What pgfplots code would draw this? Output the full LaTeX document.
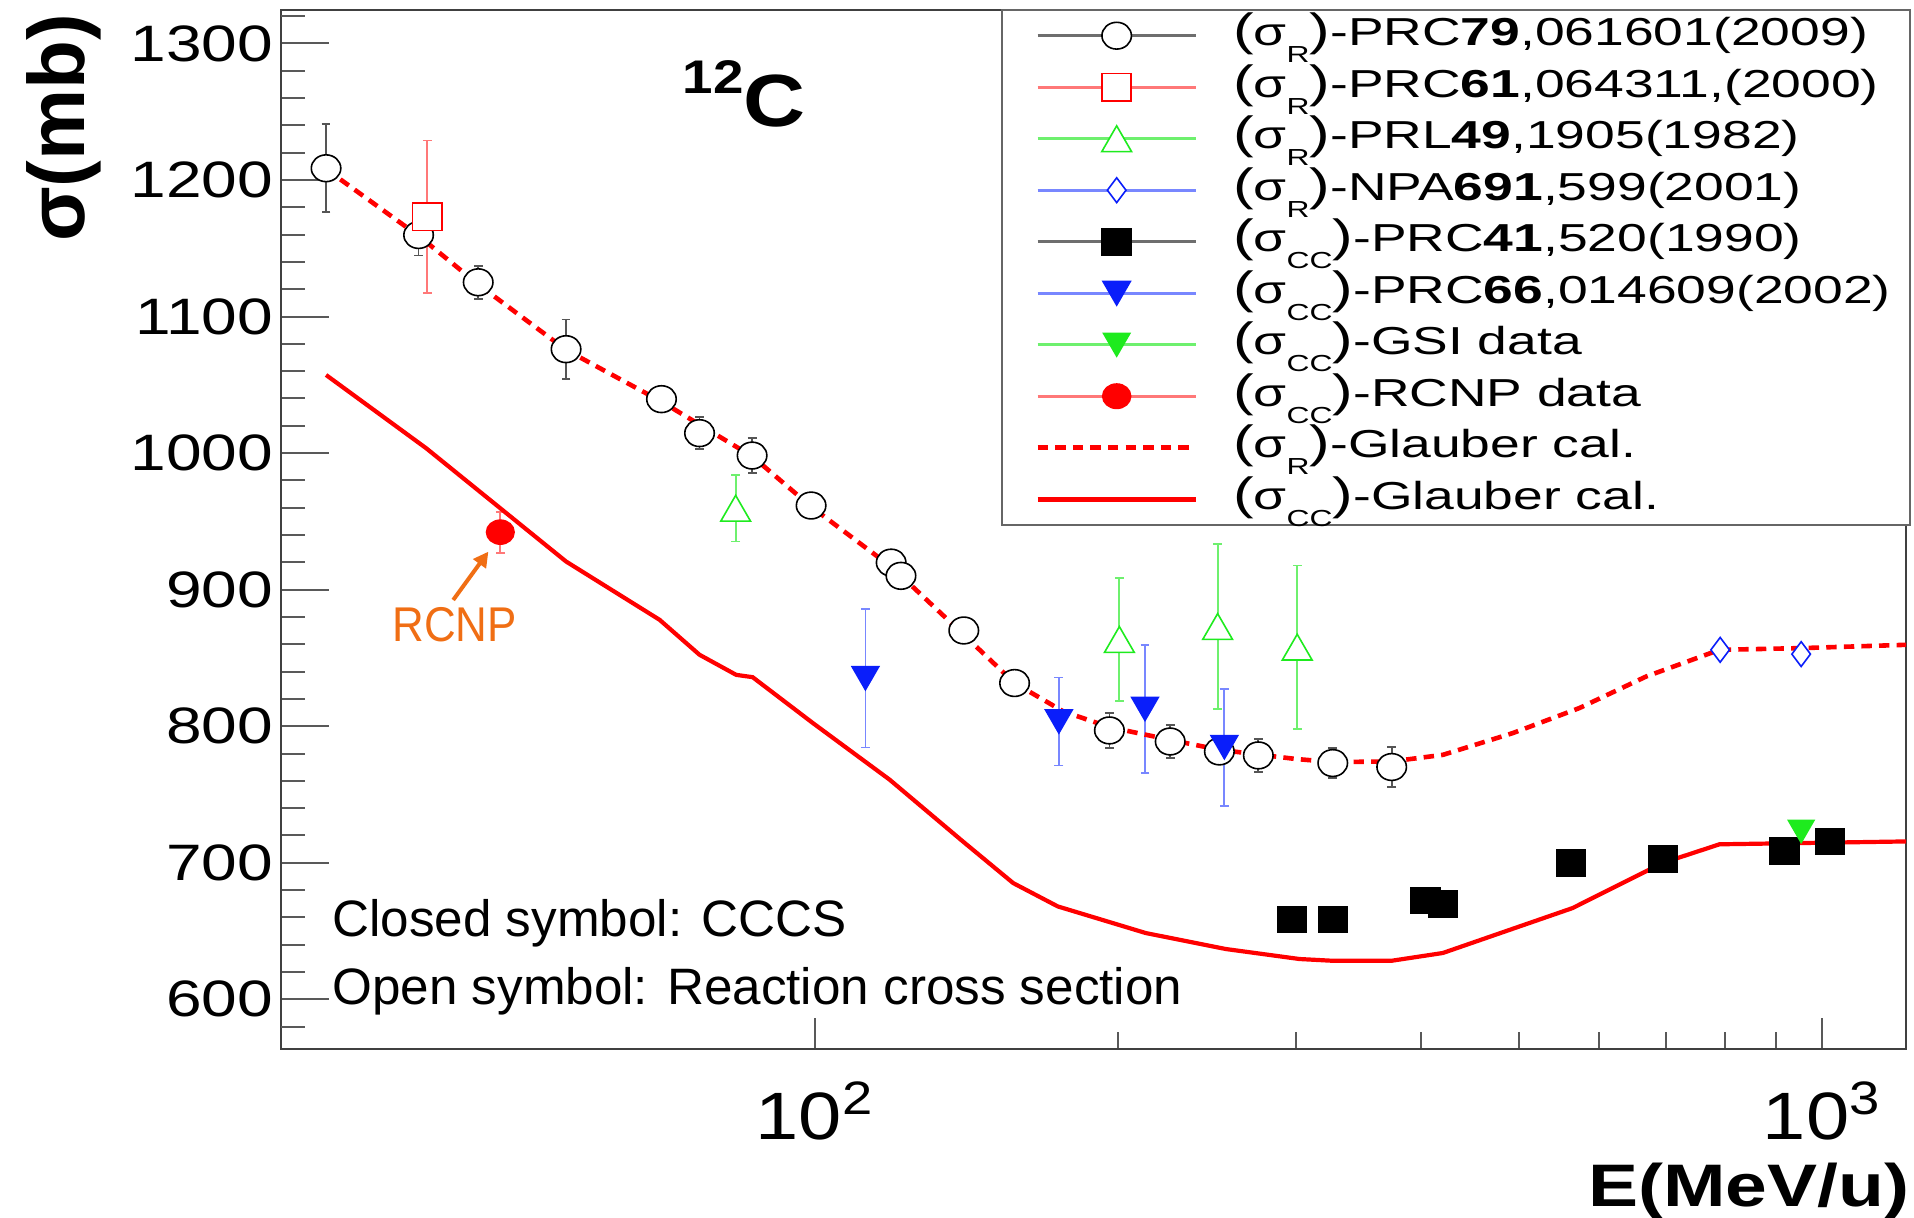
\documentclass[border=0pt]{standalone}
\usepackage{fontspec}
\setmainfont{Liberation Sans}
\newfontfamily\yfont{Liberation Sans}[FakeStretch=1.25]
\newfontfamily\xfont{Liberation Sans}[FakeStretch=1.16]
\newfontfamily\legfont{Liberation Sans}[FakeStretch=1.37]
\newfontfamily\labfont{Liberation Sans}[FakeStretch=1.25]
\newfontfamily\rcnpfont{Liberation Sans}[FakeStretch=0.9]
\usepackage{pgfplots}
\pgfplotsset{compat=1.18}
\usetikzlibrary{arrows.meta}

\definecolor{rootgreen}{RGB}{30,235,30}
\definecolor{rootblue}{RGB}{10,30,250}
\definecolor{errred}{RGB}{255,120,120}
\definecolor{errgreen}{RGB}{110,240,110}
\definecolor{errblue}{RGB}{120,135,255}
\definecolor{errgray}{RGB}{85,85,85}
\definecolor{leggray}{RGB}{110,110,110}
\definecolor{rcnporange}{RGB}{240,110,20}
\definecolor{glred}{RGB}{255,0,0}

% subscript in legend entries
\newcommand{\sub}[1]{\raisebox{-4.2pt}{\fontsize{5.8}{6}\selectfont #1}}
% tall parentheses around the cross-section symbol
\newcommand{\lp}{{\fontsize{11.3}{12}\selectfont(}}
\newcommand{\rp}{{\fontsize{11.3}{12}\selectfont)}}
% fixed-width legend text cell
\newcommand{\lt}[1]{\makebox[161pt][l]{#1}}

\begin{document}
\begin{tikzpicture}
\path[use as bounding box] (0,0) rectangle (478.5pt,304.5pt);

\begin{axis}[
  at={(70.25pt,42.25pt)}, anchor=south west,
  scale only axis, width=406.25pt, height=259.75pt,
  xmode=log, xmin=29.5, xmax=1211, ymin=563.6, ymax=1324.5,
  axis line style={draw=black!75, line width=0.55pt},
  tick pos=left, tick align=inside,
  xtick={100,1000}, xticklabels={10\textsuperscript{2},10\textsuperscript{3}},
  xtick style={draw=none},
  xticklabel style={font=\xfont\fontsize{16.75}{17}\selectfont, inner sep=0pt, yshift=-8pt},
  ytick={600,700,...,1300}, yticklabels={600,700,800,900,1000,1100,1200,1300},
  minor y tick num=4,
  extra y ticks={580,1320}, extra y tick labels={},
  extra y tick style={major tick length=6pt},
  major tick length=12pt, minor tick length=6pt,
  ytick style={draw=black!65, line width=0.5pt},
  yticklabel style={font=\yfont\fontsize{12.8}{13}\selectfont, inner sep=0pt, xshift=-1.8pt},
  legend style={at={(1.0031,1.001)}, anchor=north east, draw=black!60, line width=0.5pt,
    fill=white, inner xsep=8.25pt, inner ysep=0pt, column sep=8.75pt,
    font=\legfont\fontsize{9.75}{10}\selectfont,
    nodes={inner sep=0pt, text height=8.94pt, text depth=3.935pt}},
  legend cell align=left,
]

% sigma_R, PRC 79, 061601 (2009)
\addplot[forget plot, only marks, mark=*, mark size=3.35pt,
  mark options={draw=black, fill=white, line width=0.4pt, xscale=1.1},
  error bars/.cd, y dir=both, y explicit,
  error bar style={draw=errgray, line width=0.45pt},
  error mark options={rotate=90, draw=errgray, mark size=1.1pt, line width=0.45pt}]
  table[x=E, y=S, y error=dS] {
E S dS
32.7 1208.6 32.2
40.4 1159.7 15.0
46.3 1125.1 12.0
56.6 1076.1 21.7
70.4 1039.5 0
76.8 1014.6 11.6
86.6 998.2 12.8
99.1 961.6 0
119.0 919.8 0
121.7 910.1 0
140.5 870.1 0
157.8 831.6 0
196.0 796.9 13.0
225.2 788.8 12.0
252.0 781.5 0
275.5 778.6 12.0
326.6 773.0 11.0
373.7 770.1 14.7
};

% sigma_R, PRC 61, 064311 (2000)
\addplot[forget plot, only marks, mark=square*, mark size=3.4pt,
  mark options={draw=red, fill=white, line width=0.4pt, xscale=1.07},
  error bars/.cd, y dir=both, y explicit,
  error bar style={draw=errred, line width=0.45pt},
  error mark options={rotate=90, draw=errred, mark size=1.1pt, line width=0.45pt}]
  table[x=E, y=S, y error=dS] {
E S dS
41.2 1173.1 55.8
};

% sigma_R, PRL 49, 1905 (1982)
\addplot[forget plot, only marks, mark=triangle*, mark size=4.3pt,
  mark options={draw=rootgreen, fill=white, line width=0.4pt, yshift=-1.08pt},
  error bars/.cd, y dir=both, y explicit,
  error bar style={draw=errgreen, line width=0.45pt},
  error mark options={rotate=90, draw=errgreen, mark size=1.1pt, line width=0.45pt}]
  table[x=E, y=S, y error=dS] {
E S dS
83.4 959.6 24.4
200.5 863.5 44.9
251.0 873.0 60.3
301.1 857.9 59.8
};

% sigma_R, NPA 691, 599 (2001)
\addplot[forget plot, only marks, mark=diamond*, mark size=3.1pt,
  mark options={draw=rootblue, fill=white, line width=0.4pt}]
  table[x=E, y=S] {
E S
791.8 855.9
952.8 852.8
};

% sigma_CC, PRC 41, 520 (1990)
\addplot[forget plot, only marks, mark=square*, mark size=3.25pt,
  mark options={draw=black, fill=black, xscale=1.1}]
  table[x=E, y=S] {
E S
297.6 658.3
326.6 658.3
403.6 672.4
420.0 670.0
563.2 699.8
694.2 702.9
917.3 708.8
1017 715.6
};

% sigma_CC, PRC 66, 014609 (2002)
\addplot[forget plot, only marks, mark=triangle*, mark size=3.83pt,
  mark options={draw=rootblue, fill=rootblue, yshift=0.96pt, rotate=180},
  error bars/.cd, y dir=both, y explicit,
  error bar style={draw=errblue, line width=0.45pt},
  error mark options={rotate=90, draw=errblue, mark size=1.1pt, line width=0.45pt}]
  table[x=E, y=S, y error=dS] {
E S dS
112.2 835.1 50.7
174.6 803.4 32.2
212.6 812.6 47.0
254.9 784.6 42.9
};

% sigma_CC, GSI
\addplot[forget plot, only marks, mark=triangle*, mark size=3.67pt,
  mark options={draw=rootgreen, fill=rootgreen, yshift=0.92pt, rotate=180}]
  table[x=E, y=S] {
E S
952.8 722.9
};

% sigma_CC, RCNP
\addplot[forget plot, only marks, mark=*, mark size=3pt,
  mark options={draw=red, fill=red, xscale=1.15},
  error bars/.cd, y dir=both, y explicit,
  error bar style={draw=errred, line width=0.45pt},
  error mark options={rotate=90, draw=errred, mark size=1.1pt, line width=0.45pt}]
  table[x=E, y=S, y error=dS] {
E S dS
48.7 942.1 15.0
};

% Glauber calculation, reaction cross section
\addplot[forget plot, draw=glred, line width=1.15pt, dash pattern=on 2.6pt off 1.8pt]
  table[x=E, y=S] {
E S
32.7 1208.0
40.5 1158.5
46.4 1123.0
56.6 1075.6
70.4 1037.7
86.7 997.4
99.1 960.8
119.5 915.7
140.5 866.9
157.8 831.6
176.4 810.8
196.0 799.3
225.2 790.0
252.0 782.7
300.0 776.0
326.6 773.7
373.7 774.2
420.0 779.0
492.6 794.9
574.0 813.3
668.6 836.4
790.5 855.9
956.0 857.2
1211 859.6
};

% Glauber calculation, charge-changing cross section
\addplot[forget plot, draw=glred, line width=1.05pt]
  table[x=E, y=S] {
E S
32.7 1057.2
41.1 1003.6
56.6 920.6
70.1 877.9
76.8 852.3
83.5 837.6
86.7 835.9
99.5 802.3
118.6 760.8
140.2 715.6
157.3 685.1
174.2 668.0
213.0 648.5
255.8 636.8
302.6 629.5
326.6 628.2
373.5 628.2
420.0 633.9
565.0 666.8
694.0 699.8
790.5 713.5
1211 715.6
};

% legend
\addlegendimage{legend image code/.code={
  \draw[leggray, line width=0.8pt] (0pt,0pt) -- (39.5pt,0pt);
  \draw plot[mark=*, mark size=3.35pt, mark options={draw=black, fill=white, line width=0.4pt, xscale=1.1}] coordinates {(19.75pt,0pt)};}}
\addlegendentry{\lt{\lp σ\sub{R}\rp-PRC\textbf{79},061601(2009)}}
\addlegendimage{legend image code/.code={
  \draw[errred, line width=0.8pt] (0pt,0pt) -- (39.5pt,0pt);
  \draw plot[mark=square*, mark size=3.4pt, mark options={draw=red, fill=white, line width=0.4pt, xscale=1.07}] coordinates {(19.75pt,0pt)};}}
\addlegendentry{\lt{\lp σ\sub{R}\rp-PRC\textbf{61},064311,(2000)}}
\addlegendimage{legend image code/.code={
  \draw[errgreen, line width=0.8pt] (0pt,0pt) -- (39.5pt,0pt);
  \draw plot[mark=triangle*, mark size=4.3pt, mark options={draw=rootgreen, fill=white, line width=0.4pt, yshift=-1.08pt}] coordinates {(19.75pt,0pt)};}}
\addlegendentry{\lt{\lp σ\sub{R}\rp-PRL\textbf{49},1905(1982)}}
\addlegendimage{legend image code/.code={
  \draw[errblue, line width=0.8pt] (0pt,0pt) -- (39.5pt,0pt);
  \draw plot[mark=diamond*, mark size=3.1pt, mark options={draw=rootblue, fill=white, line width=0.4pt}] coordinates {(19.75pt,0pt)};}}
\addlegendentry{\lt{\lp σ\sub{R}\rp-NPA\textbf{691},599(2001)}}
\addlegendimage{legend image code/.code={
  \draw[leggray, line width=0.8pt] (0pt,0pt) -- (39.5pt,0pt);
  \draw plot[mark=square*, mark size=3.25pt, mark options={draw=black, fill=black, xscale=1.1}] coordinates {(19.75pt,0pt)};}}
\addlegendentry{\lt{\lp σ\sub{CC}\rp-PRC\textbf{41},520(1990)}}
\addlegendimage{legend image code/.code={
  \draw[errblue, line width=0.8pt] (0pt,0pt) -- (39.5pt,0pt);
  \draw plot[mark=triangle*, mark size=3.83pt, mark options={draw=rootblue, fill=rootblue, yshift=0.96pt, rotate=180}] coordinates {(19.75pt,0pt)};}}
\addlegendentry{\lt{\lp σ\sub{CC}\rp-PRC\textbf{66},014609(2002)}}
\addlegendimage{legend image code/.code={
  \draw[errgreen, line width=0.8pt] (0pt,0pt) -- (39.5pt,0pt);
  \draw plot[mark=triangle*, mark size=3.67pt, mark options={draw=rootgreen, fill=rootgreen, yshift=0.92pt, rotate=180}] coordinates {(19.75pt,0pt)};}}
\addlegendentry{\lt{\lp σ\sub{CC}\rp-GSI data}}
\addlegendimage{legend image code/.code={
  \draw[errred, line width=0.8pt] (0pt,0pt) -- (39.5pt,0pt);
  \draw plot[mark=*, mark size=3pt, mark options={draw=red, fill=red, xscale=1.15}] coordinates {(19.75pt,0pt)};}}
\addlegendentry{\lt{\lp σ\sub{CC}\rp-RCNP data}}
\addlegendimage{legend image code/.code={
  \draw[glred, line width=1.2pt, dash pattern=on 2.6pt off 1.8pt] (0pt,0pt) -- (39.5pt,0pt);}}
\addlegendentry{\lt{\lp σ\sub{R}\rp-Glauber cal.}}
\addlegendimage{legend image code/.code={
  \draw[glred, line width=1.2pt] (0pt,0pt) -- (39.5pt,0pt);}}
\addlegendentry{\lt{\lp σ\sub{CC}\rp-Glauber cal.}}
\end{axis}

% bottom axis ticks (shorter than the y ticks)
\begin{axis}[
  at={(70.25pt,42.25pt)}, anchor=south west,
  scale only axis, width=406.25pt, height=259.75pt,
  xmode=log, xmin=29.5, xmax=1211, ymin=563.6, ymax=1324.5,
  axis x line*=bottom, axis y line=none, tick align=inside,
  xtick={100,1000}, xticklabels={},
  major tick length=7.75pt, minor tick length=4.25pt,
  xtick style={draw=black!65, line width=0.5pt},
  axis line style={draw=black!75, line width=0.55pt},
]
\end{axis}

% annotations
\node[anchor=base west, inner sep=0pt] at (170.5pt,272.75pt)
  {\xfont\bfseries\raisebox{8.3pt}{\fontsize{11.8}{12}\selectfont 12}{\fontsize{18.5}{19}\selectfont C}};
\node[anchor=base west, inner sep=0pt, text=rcnporange] at (97.9pt,144.1pt)
  {\rcnpfont\fontsize{12.2}{13}\selectfont RCNP};
\draw[rcnporange, line width=1pt, -{Triangle[length=3.8pt,width=3.8pt]}] (113.3pt,154.5pt) -- (122.1pt,166.6pt);
\node[anchor=base west, inner sep=0pt] at (82.9pt,70.3pt)
  {\fontsize{12.8}{13}\selectfont Closed symbol: CCCS};
\node[anchor=base west, inner sep=0pt] at (82.9pt,53.25pt)
  {\fontsize{12.8}{13}\selectfont Open symbol: Reaction cross section};
\node[rotate=90, anchor=base east, inner sep=0pt] at (21.1pt,301.25pt)
  {\fontsize{20}{21}\selectfont\bfseries σ(mb)};
\node[anchor=base east, inner sep=0pt] at (477.5pt,2.8pt)
  {\labfont\bfseries\fontsize{15}{16}\selectfont E(MeV/u)};
\end{tikzpicture}
\end{document}
